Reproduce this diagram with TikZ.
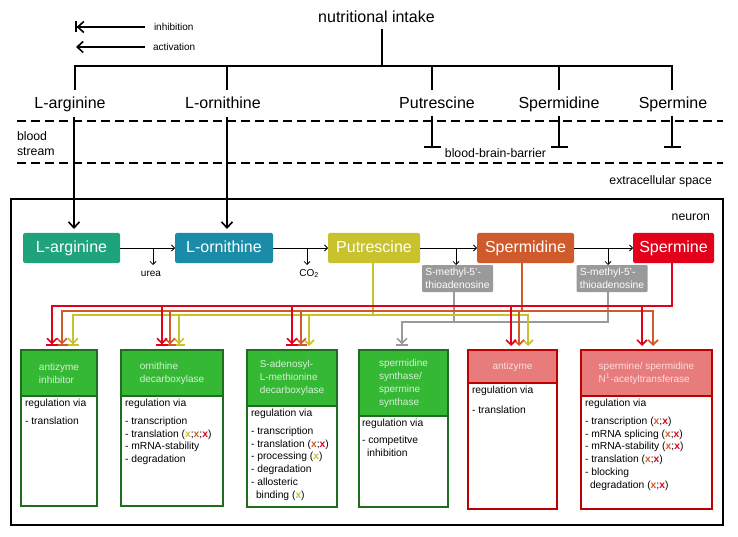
\documentclass[tikz,border=0pt]{standalone}
\usepackage{fontspec}
\setmainfont{Liberation Sans}
\usetikzlibrary{arrows.meta}
\definecolor{cArg}{HTML}{1FA37C}
\definecolor{cOrn}{HTML}{1A8CA8}
\definecolor{cPut}{HTML}{C8C22C}
\definecolor{cSpd}{HTML}{CF5A2C}
\definecolor{cSpm}{HTML}{E3001B}
\definecolor{cGray}{HTML}{9A9A9A}
\definecolor{gFill}{HTML}{35B935}
\definecolor{gLine}{HTML}{1E6E1E}
\definecolor{rFill}{HTML}{E87B7B}
\definecolor{rLine}{HTML}{C00000}
\definecolor{gTxt}{HTML}{D6F0D6}
\definecolor{rTxt}{HTML}{FBE0E0}
\newcommand{\xYel}{\textcolor{cPut}{\textbf{x}}}
\newcommand{\xOra}{\textcolor{cSpd}{\textbf{x}}}
\newcommand{\xRed}{\textcolor{cSpm}{\textbf{x}}}
\begin{document}
\begin{tikzpicture}[x=1pt,y=-1pt,
  every node/.style={inner sep=0pt, outer sep=0pt},
  bigtxt/.style={font=\fontsize{16}{18}\selectfont},
  lbl/.style={font=\fontsize{12.3}{15}\selectfont, align=left},
  sml/.style={font=\fontsize{10}{12}\selectfont},
  blk/.style={line width=1.6pt, line join=miter},
  thinl/.style={line width=0.8pt, -{Straight Barb[length=3pt,width=6pt]}},
  act/.style={-{Straight Barb[length=5pt,width=10pt]}, shorten >=4pt},
  inh/.style={-{Straight Barb[length=5pt,width=10pt] Bar[width=12pt]}, shorten >=4pt},
  pbox/.style={rectangle, rounded corners=1.5pt, minimum height=30pt, text=white,
    font=\fontsize{16}{18}\selectfont, text height=11.5pt, text depth=3.5pt},
  mbox/.style={rectangle, rounded corners=1pt, fill=cGray, minimum width=71pt,
    minimum height=27pt, text=white, align=left, font=\fontsize{10.3}{13}\selectfont},
  rl/.style={line width=1.6pt, draw=cSpm},
  ol/.style={line width=1.6pt, draw=cSpd},
  yl/.style={line width=1.6pt, draw=cPut},
  gl/.style={line width=1.6pt, draw=cGray},
  gbox/.style={rectangle, draw=gLine, line width=1.6pt, fill=white, anchor=north west},
  rbox/.style={rectangle, draw=rLine, line width=1.6pt, fill=white, anchor=north west},
  ghead/.style={rectangle, draw=gLine, line width=1.6pt, fill=gFill, anchor=north west,
    text=gTxt, align=left, font=\fontsize{10}{13}\selectfont},
  rhead/.style={rectangle, draw=rLine, line width=1.6pt, fill=rFill, anchor=north west,
    text=rTxt, align=left, font=\fontsize{10}{13}\selectfont},
  body/.style={anchor=north west, align=left, font=\fontsize{10.3}{12.8}\selectfont}
]
\useasboundingbox (0,0) rectangle (738,537);

% legend
\coordinate (liR) at (145,27); \coordinate (liL) at (75,27);
\coordinate (laR) at (145,47); \coordinate (laL) at (76,47);
\draw[blk, -{Straight Barb[length=6pt,width=11pt] Bar[width=11pt]}] (liR) -- (liL);
\draw[blk, -{Straight Barb[length=6pt,width=11pt]}] (laR) -- (laL);
\node[sml, anchor=west] (tinh) at (154,27) {inhibition};
\node[sml, anchor=west] (tact) at (153,47) {activation};

% nutritional intake tree
\node[bigtxt] (nut) at (376.5,17) {nutritional intake};
\coordinate (j0) at (382,66);
\draw[blk] (382,29) -- (j0);
\draw[blk] (75,90) -- (75,66) -- (672,66) -- (672,90);
\draw[blk] (227,66) -- (227,90);
\draw[blk] (432,66) -- (432,90);
\draw[blk] (559,66) -- (559,90);

\node[bigtxt, anchor=base] (tArg) at (70,109) {L-arginine};
\node[bigtxt, anchor=base] (tOrn) at (223,109) {L-ornithine};
\node[bigtxt, anchor=base] (tPut) at (437,109) {Putrescine};
\node[bigtxt, anchor=base] (tSpd) at (559,109) {Spermidine};
\node[bigtxt, anchor=base] (tSpm) at (673,109) {Spermine};

% compartments
\draw[blk, dash pattern=on 9pt off 5pt] (17,121) -- (723,121);
\draw[blk, dash pattern=on 9pt off 5pt] (17,163) -- (723,163);
\node[lbl, anchor=west] (bs) at (17,143.5) {blood\\stream};
\node[lbl] (bbb) at (495.5,153) {blood-brain-barrier};
\node[lbl, anchor=east] (ecs) at (712,181) {extracellular space};

% barrier bars
\draw[blk, -{Bar[width=17pt]}] (432,116) -- (432,148);
\draw[blk, -{Bar[width=17pt]}] (559,116) -- (559,148);
\draw[blk, -{Bar[width=17pt]}] (672,116) -- (672,148);

% neuron
\draw[line width=2pt] (11,199) rectangle (723,525);
\node[lbl, anchor=east] (neu) at (710,217) {neuron};

\node[pbox, fill=cArg, minimum width=97pt] (arg) at (71.5,248) {L-arginine};
\node[pbox, fill=cOrn, minimum width=98pt] (orn) at (224,248) {L-ornithine};
\node[pbox, fill=cPut, minimum width=92pt] (put) at (374,248) {Putrescine};
\node[pbox, fill=cSpd, minimum width=97pt] (spd) at (525.5,248) {Spermidine};
\node[pbox, fill=cSpm, minimum width=81pt] (spm) at (673.5,248) {Spermine};
\node[mbox] (mta1) at (457.5,278.5) {S-methyl-5'-\\thioadenosine};
\node[mbox] (mta2) at (612,278.5) {S-methyl-5'-\\thioadenosine};

\coordinate (inA) at (74,117);
\coordinate (inO) at (227,117);
\draw[blk, -{Straight Barb[length=6pt,width=11pt]}, shorten >=4pt] (inA) -- (inA |- arg.north);
\draw[blk, -{Straight Barb[length=6pt,width=11pt]}, shorten >=4pt] (inO) -- (inO |- orn.north);

\draw[thinl] (arg.east) -- (orn.west);
\draw[thinl] (orn.east) -- (put.west);
\draw[thinl] (put.east) -- (spd.west);
\draw[thinl] (spd.east) -- (spm.west);
\node[sml, anchor=base] (urea) at (151,276) {urea};
\node[sml, anchor=base] (co2) at (309,276) {CO\textsubscript{2}};
\coordinate (u1) at (153,248);
\coordinate (c1) at (307,248);
\coordinate (m1) at (456,248);
\coordinate (m2) at (608,248);
\draw[thinl] (u1) -- (153,265);
\draw[thinl] (c1) -- (307,265);
\draw[thinl] (m1) -- (m1 |- mta1.north);
\draw[thinl] (m2) -- (m2 |- mta2.north);

% target boxes
\node[gbox, minimum width=76pt, minimum height=156pt] (b1) at (21,350) {};
\node[ghead, minimum width=76pt, minimum height=46pt] (h1) at (21,350) {antizyme\\inhibitor};
\node[body] (x1) at (25,399.5) {regulation via\\[4.5pt]- translation};

\node[gbox, minimum width=102pt, minimum height=156pt] (b2) at (121,350) {};
\node[ghead, minimum width=102pt, minimum height=46pt] (h2) at (121,350) {ornithine\\decarboxylase};
\node[body] (x2) at (125,399.5) {regulation via\\[4.5pt]- transcription\\- translation (\xYel;\xOra;\xRed)\\- mRNA-stability\\- degradation};

\node[gbox, minimum width=90pt, minimum height=157pt] (b3) at (247,350) {};
\node[ghead, minimum width=90pt, minimum height=56pt] (h3) at (247,350) {S-adenosyl-\\L-methionine\\decarboxylase};
\node[body] (x3) at (251,409.5) {regulation via\\[4.5pt]- transcription\\- translation (\xOra;\xRed)\\- processing (\xYel)\\- degradation\\- allosteric\\\hspace*{5pt}binding (\xYel)};

\node[gbox, minimum width=89pt, minimum height=157pt] (b4) at (359,350) {};
\node[ghead, minimum width=89pt, minimum height=66pt] (h4) at (359,350) {spermidine\\synthase/\\spermine\\synthase};
\node[body] (x4) at (362,419.5) {regulation via\\[4pt]- competitve\\\hspace*{5pt}inhibition};

\node[rbox, minimum width=89pt, minimum height=159pt] (b5) at (468,350) {};
\node[rhead, minimum width=89pt, minimum height=33pt] (h5) at (468,350) {antizyme};
\node[body] (x5) at (472,386.5) {regulation via\\[7pt]- translation};

\node[rbox, minimum width=131pt, minimum height=159pt] (b6) at (581,350) {};
\node[rhead, minimum width=131pt, minimum height=46pt] (h6) at (581,350) {spermine/ spermidine\\N\textsuperscript{1}-acetyltransferase};
\node[body] (x6) at (585,399.5) {regulation via\\[4.5pt]- transcription (\xOra;\xRed)\\- mRNA splicing (\xOra;\xRed)\\- mRNA-stability (\xOra;\xRed)\\- translation (\xOra;\xRed)\\- blocking\\\hspace*{5pt}degradation (\xOra;\xRed)};

% gray connectors (MTA)
\coordinate (gj) at (402,322);
\coordinate (g1) at (454,0); \coordinate (g2) at (608,0);
\draw[gl] (g2 |- mta2.south) |- (g1 |- gj);
\draw[gl, inh] (g1 |- mta1.south) |- (gj) -- (gj |- b4.north);

% yellow connectors (putrescine)
\coordinate (yt) at (373,0);
\coordinate (y1) at (73,315); \coordinate (y2) at (179,315);
\coordinate (y3) at (309,315); \coordinate (y5) at (528,315);
\draw[yl, inh] (yt |- put.south) |- (y1) -- (y1 |- b1.north);
\draw[yl, act] (yt |- put.south) |- (y5) -- (y5 |- b5.north);
\draw[yl, inh] (y2) -- (y2 |- b2.north);
\draw[yl, act] (y3) -- (y3 |- b3.north);

% orange connectors (spermidine)
\coordinate (ot) at (522,0);
\coordinate (o1) at (62,311); \coordinate (o2) at (170,311);
\coordinate (o3) at (301,311); \coordinate (o5) at (519,311);
\coordinate (o6) at (653,311);
\draw[ol, inh] (ot |- spd.south) |- (o1) -- (o1 |- b1.north);
\draw[ol, act] (ot |- spd.south) |- (o6) -- (o6 |- b6.north);
\draw[ol, inh] (o2) -- (o2 |- b2.north);
\draw[ol, inh] (o3) -- (o3 |- b3.north);
\draw[ol, act] (o5) -- (o5 |- b5.north);

% red connectors (spermine)
\coordinate (rt) at (672,0);
\coordinate (r1) at (52,306); \coordinate (r2) at (162,306);
\coordinate (r3) at (292,306); \coordinate (r5) at (511,306);
\coordinate (r6) at (642,306);
\draw[rl, inh] (rt |- spm.south) |- (r1) -- (r1 |- b1.north);
\draw[rl, inh] (r2) -- (r2 |- b2.north);
\draw[rl, inh] (r3) -- (r3 |- b3.north);
\draw[rl, act] (r5) -- (r5 |- b5.north);
\draw[rl, act] (r6) -- (r6 |- b6.north);
\end{tikzpicture}
\end{document}
